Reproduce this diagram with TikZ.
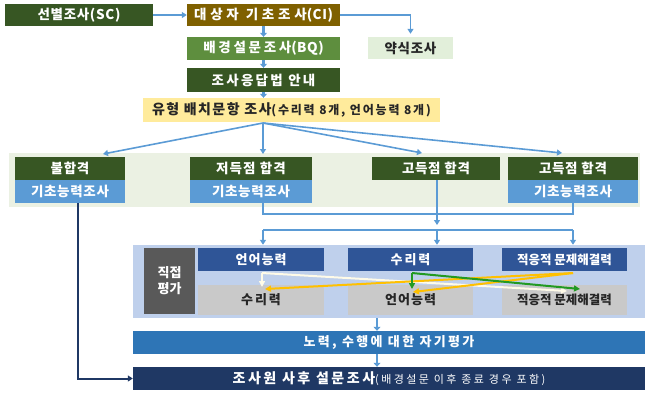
\documentclass[tikz,border=0pt]{standalone}
\usepackage{fontspec}
\setmainfont{Noto Sans CJK KR}
\usetikzlibrary{arrows.meta}
\definecolor{dkgreen}{HTML}{375623}
\definecolor{brownc}{HTML}{7F6000}
\definecolor{midgreen}{HTML}{5E8E3E}
\definecolor{palegreen}{HTML}{E2EFDA}
\definecolor{yellowc}{HTML}{FFEB9C}
\definecolor{bandc}{HTML}{EBF1E3}
\definecolor{bluebox}{HTML}{5B9BD5}
\definecolor{arrowblue}{HTML}{5B9BD5}
\definecolor{panelc}{HTML}{BFD0EC}
\definecolor{navytop}{HTML}{2F5597}
\definecolor{grayc}{HTML}{C9C9C9}
\definecolor{dgray}{HTML}{595959}
\definecolor{effortc}{HTML}{2E75B6}
\definecolor{navyc}{HTML}{1F3864}
\definecolor{orangec}{HTML}{FFC000}
\definecolor{greenarr}{HTML}{229A22}
\definecolor{creamc}{HTML}{FFFBE8}
\definecolor{darktext}{HTML}{262626}
\newcommand\fntbox[1]{\bfseries\fontsize{13.5}{15}\selectfont\addfontfeature{LetterSpace=#1}}
\newcommand\fntpan[2]{\bfseries\fontsize{#1}{14}\selectfont\addfontfeature{LetterSpace=#2}}
\newcommand\tightls[1]{{\addfontfeature{LetterSpace=4}#1}}
\begin{document}
\begin{tikzpicture}[x=1pt,y=-1pt,
  box/.style={draw=none, inner sep=0pt, font=\fntbox{5}, text=white},
  sp/.style={font=\fntbox{#1}},
  dbox/.style={box, text=darktext},
  pbox/.style 2 args={box, font=\fntpan{#1}{#2}},
  bline/.style={draw=arrowblue, line width=1.6pt},
  barrow/.style={bline, -{Triangle[length=5pt,width=6pt]}},
  sarrow/.style={draw=arrowblue, line width=2.2pt, -{Triangle[length=4pt,width=7pt]}},
  parrow/.style={line width=2pt, -{Triangle[length=6pt,width=6pt]}}]
\useasboundingbox (0,0) rectangle (650,400);

% top stack
\node[box, fill=dkgreen, minimum width=148pt, minimum height=22pt] (sc) at (79,15) {선별조사(SC)};
\node[box, sp=28, fill=brownc, minimum width=153pt, minimum height=22pt] (ci) at (263.5,15) {대상자 기초조사\tightls{(CI)}};
\node[box, sp=20, fill=midgreen, minimum width=153pt, minimum height=23pt] (bq) at (263.5,48.5) {배경설문조사\tightls{(BQ)}};
\node[box, sp=17, fill=dkgreen, minimum width=153pt, minimum height=24pt] (guide) at (263.5,80) {조사응답법 안내};
\node[dbox, fill=palegreen, minimum width=85pt, minimum height=22pt] (yak) at (410.5,48) {약식조사};
\node[dbox, fill=yellowc, minimum width=297pt, minimum height=24pt,
  font=\bfseries\fontsize{14}{16}\selectfont\addfontfeature{LetterSpace=10}] (type) at (291.5,110)
  {유형 배치문항 조사{\fontsize{12}{14}\selectfont\addfontfeature{LetterSpace=15}(수리력 8개, 언어능력 8개)}};

\draw[barrow] (sc) -- (ci);
\draw[barrow, shorten >=3pt] (ci.east) -| (yak.north);
\draw[sarrow] (ci) -- (bq);
\draw[sarrow] (bq) -- (guide);
\draw[sarrow] (guide.south) -- (guide.south |- type.north);

% band with result boxes
\node[fill=bandc, minimum width=631pt, minimum height=54pt, inner sep=0pt] (band) at (324.5,180) {};
\node[box, fill=dkgreen, minimum width=110pt, minimum height=23pt] (f1t) at (70,168.5) {불합격};
\node[box, fill=bluebox, minimum width=110pt, minimum height=23pt] (f1b) at (70,191.5) {기초능력조사};
\node[box, sp=8, fill=dkgreen, minimum width=122pt, minimum height=23pt] (f2t) at (251,168.5) {저득점 합격};
\node[box, fill=bluebox, minimum width=122pt, minimum height=23pt] (f2b) at (251,191.5) {기초능력조사};
\node[box, fill=dkgreen, minimum width=128pt, minimum height=23pt] (f3t) at (436,168.5) {고득점 합격};
\node[box, fill=dkgreen, minimum width=130pt, minimum height=23pt] (f4t) at (573,168.5) {고득점 합격};
\node[box, fill=bluebox, minimum width=130pt, minimum height=23pt] (f4b) at (573,191.5) {기초능력조사};

\coordinate (fan) at (263,123);
\coordinate (t1) at (103,154);
\coordinate (t2) at (263,154);
\coordinate (t3) at (422,153);
\coordinate (t4) at (562,153);
\foreach \t in {t1,t2,t3,t4} \draw[barrow] (fan) -- (\t);

% merging lines
\coordinate (xa) at (263,0);
\coordinate (xb) at (437,0);
\coordinate (xc) at (573,0);
\coordinate (xd) at (377,0);
\coordinate (xe) at (78,0);
\coordinate (j1) at (0,214);
\coordinate (j2) at (0,225);
\coordinate (h2) at (0,230);
\draw[bline] (f2b.south -| xa) -- (xa |- j1) -- (xc |- j1) -- (f4b.south -| xc);
\draw[barrow] (f3t.south -| xb) -- (xb |- j2);
\draw[bline] (xa |- h2) -- (xc |- h2);

% direct evaluation panel
\node[fill=panelc, minimum width=512pt, minimum height=73pt, inner sep=0pt] (panel) at (389,281.5) {};
\node[box, fill=dgray, minimum width=51pt, minimum height=66pt, align=center,
  font=\bfseries\fontsize{13}{16}\selectfont] (jik) at (169.5,281) {직접\\평가};
\node[pbox={13}{8}, fill=navytop, minimum width=126pt, minimum height=23pt] (lt) at (261,259.5) {언어능력};
\node[pbox={13}{15}, fill=navytop, minimum width=125pt, minimum height=23pt] (mt) at (410.5,259.5) {수리력};
\node[pbox={12.5}{0}, fill=navytop, minimum width=125pt, minimum height=23pt] (rt) at (564.5,259.5) {적응적 문제해결력};
\node[pbox={13}{15}, text=darktext, fill=grayc, minimum width=126pt, minimum height=30pt] (lb) at (261,300) {수리력};
\node[pbox={13}{8}, text=darktext, fill=grayc, minimum width=125pt, minimum height=30pt] (mb) at (410.5,300) {언어능력};
\node[pbox={12.5}{0}, text=darktext, fill=grayc, minimum width=125pt, minimum height=30pt] (rb) at (564.5,300) {적응적 문제해결력};

\foreach \c/\b in {xa/lt, xb/mt, xc/rt}
  \draw[barrow] (\c |- h2) -- ([yshift=3pt]\b.north -| \c);

\coordinate (ws) at (262,273);
\coordinate (wA) at (262,287);
\coordinate (wB) at (567,291);
\coordinate (gs) at (412,273);
\coordinate (gA) at (412,289);
\coordinate (gB) at (580,289);
\coordinate (ys) at (573,273);
\coordinate (yA) at (265,289);
\coordinate (yB) at (413,292);
\draw[parrow, creamc] (ws) -- (wA);
\draw[parrow, creamc] (ws) -- (wB);
\draw[parrow, orangec] (ys) -- (yA);
\draw[parrow, orangec] (ys) -- (yB);
\draw[parrow, greenarr] (gs) -- (gA);
\draw[parrow, greenarr] (gs) -- (gB);

% bottom boxes
\node[box, fill=effortc, minimum width=512pt, minimum height=23pt,
  font=\bfseries\fontsize{13}{15}\selectfont\addfontfeature{LetterSpace=18}] (eff) at (389,342.5) {노력, 수행에 대한 자기평가};
\node[box, fill=navyc, minimum width=512pt, minimum height=23pt,
  font=\bfseries\fontsize{14}{16}\selectfont\addfontfeature{LetterSpace=18}] (post) at (389,378.5)
  {조사원 사후 설문조사{\mdseries\fontsize{11}{13}\selectfont\addfontfeature{LetterSpace=22}(배경설문 이후 종료 경우 포함)}};
\draw[sarrow] (panel.south -| xd) -- (eff.north -| xd);
\draw[sarrow] (eff.south -| xd) -- (post.north -| xd);
\draw[draw=navyc, line width=2pt, -{Triangle[length=5pt,width=6pt]}] (f1b.south -| xe) |- (post.west);
\end{tikzpicture}
\end{document}
